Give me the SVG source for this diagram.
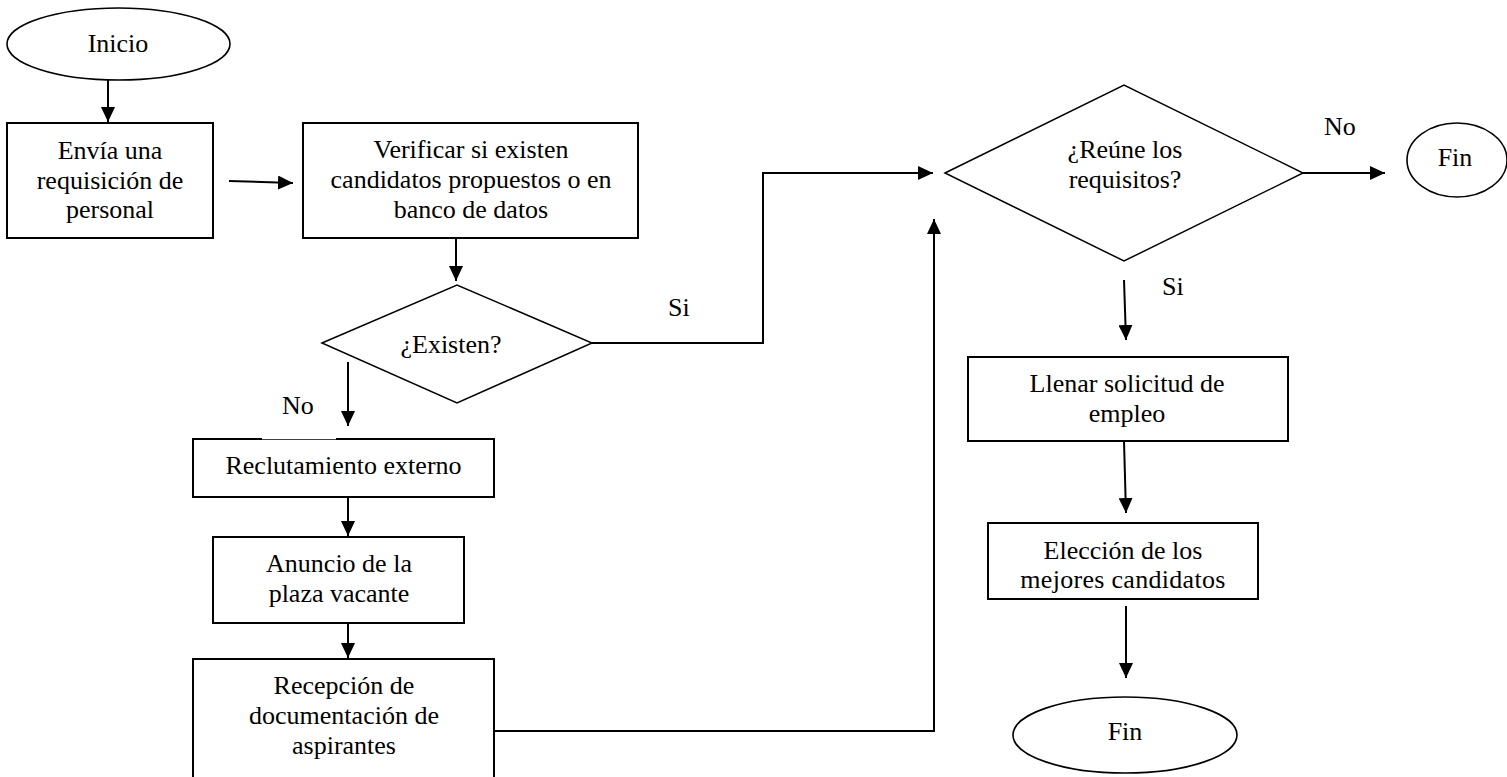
<svg xmlns="http://www.w3.org/2000/svg" width="1507" height="777" viewBox="0 0 1507 777">
  <style>
    .box { fill: #ffffff; stroke: #000000; stroke-width: 2; }
    .dec { fill: #ffffff; stroke: #000000; stroke-width: 1.5; }
    .term { fill: #ffffff; stroke: #000000; stroke-width: 1.6; }
    .lbl { font-family: "Liberation Serif", "Times New Roman", serif; font-size: 26px; fill: #000000; }
    .mid { text-anchor: middle; }
    .edge { fill: none; stroke: #000000; stroke-width: 2; marker-end: url(#arrow); }
    .plain { fill: none; stroke: #000000; stroke-width: 2; }
  </style>
  <defs>
    <marker id="arrow" markerUnits="userSpaceOnUse" markerWidth="15" markerHeight="14" refX="15" refY="7" orient="auto">
      <path d="M0,0 L15,7 L0,14 Z" fill="#000000"/>
    </marker>
    <clipPath id="clip-eleccion">
      <rect x="989" y="524" width="268" height="72"/>
    </clipPath>
  </defs>
  <rect width="1507" height="777" fill="#ffffff"/>

  <!-- connectors -->
  <g id="connectors">
    <line class="edge" x1="108" y1="80" x2="108" y2="122"/>
    <line class="edge" x1="229" y1="181" x2="293" y2="183"/>
    <line class="edge" x1="456" y1="238" x2="456" y2="281"/>
    <polyline class="edge" points="592,343 763,343 763,173 933,173"/>
    <line class="edge" x1="348" y1="362" x2="348" y2="426"/>
    <line class="edge" x1="348" y1="497" x2="348" y2="536"/>
    <line class="edge" x1="348" y1="623" x2="348" y2="658"/>
    <polyline class="edge" points="494,731 934,731 934,219"/>
    <line class="edge" x1="1303" y1="173" x2="1385" y2="173"/>
    <line class="edge" x1="1124" y1="280" x2="1126" y2="340"/>
    <line class="edge" x1="1124" y1="441" x2="1126" y2="513"/>
    <line class="edge" x1="1126" y1="606" x2="1126" y2="678"/>
    <text class="lbl" x="668" y="316">Si</text>
    <text class="lbl" x="282" y="414">No</text>
    <text class="lbl" x="1324" y="135">No</text>
    <text class="lbl" x="1162" y="295">Si</text>
  </g>

  <!-- start -->
  <g id="inicio">
    <ellipse class="term" cx="118.5" cy="44" rx="111.5" ry="36"/>
    <text class="lbl mid" x="118" y="52">Inicio</text>
  </g>

  <g id="envia">
    <rect class="box" x="7" y="123" width="206" height="115"/>
    <text class="lbl mid" x="110" y="159">Envía una</text>
    <text class="lbl mid" x="110" y="189">requisición de</text>
    <text class="lbl mid" x="110" y="218">personal</text>
  </g>

  <g id="verificar">
    <rect class="box" x="303" y="123" width="335" height="115"/>
    <text class="lbl mid" x="471" y="158">Verificar si existen</text>
    <text class="lbl mid" x="471" y="188">candidatos propuestos o en</text>
    <text class="lbl mid" x="471" y="218">banco de datos</text>
  </g>

  <g id="existen">
    <polygon class="dec" points="322,343 457,285 592,343 457,403"/>
    <text class="lbl mid" x="451" y="353">¿Existen?</text>
  </g>

  <g id="reclutamiento">
    <rect class="box" x="193" y="439" width="301" height="58"/>
    <!-- lighter run on the top edge -->
    <line x1="262" y1="438.6" x2="336" y2="438.6" stroke="#ffffff" stroke-width="1.2"/>
    <text class="lbl mid" x="343.5" y="474">Reclutamiento externo</text>
  </g>

  <g id="anuncio">
    <rect class="box" x="213" y="537" width="251" height="86"/>
    <text class="lbl mid" x="339" y="572">Anuncio de la</text>
    <text class="lbl mid" x="339" y="602">plaza vacante</text>
  </g>

  <g id="recepcion">
    <rect class="box" x="193" y="659" width="301" height="125"/>
    <text class="lbl mid" x="344" y="694">Recepción de</text>
    <text class="lbl mid" x="344" y="724">documentación de</text>
    <text class="lbl mid" x="344" y="754">aspirantes</text>
  </g>

  <g id="reune">
    <polygon class="dec" points="945,173 1124,85 1303,173 1124,261"/>
    <text class="lbl mid" x="1125" y="158">¿Reúne los</text>
    <text class="lbl mid" x="1125" y="188">requisitos?</text>
  </g>

  <g id="fin-no">
    <ellipse class="term" cx="1457" cy="160" rx="50" ry="37"/>
    <text class="lbl mid" x="1455" y="166">Fin</text>
  </g>

  <g id="llenar">
    <rect class="box" x="968" y="357" width="320" height="84"/>
    <text class="lbl mid" x="1127" y="392">Llenar solicitud de</text>
    <text class="lbl mid" x="1127" y="422">empleo</text>
  </g>

  <g id="eleccion">
    <rect class="box" x="988" y="523" width="270" height="76"/>
    <g clip-path="url(#clip-eleccion)">
      <text class="lbl mid" x="1123" y="559">Elección de los</text>
      <text class="lbl mid" x="1123" y="588" letter-spacing="0.3">mejores candidatos</text>
    </g>
  </g>

  <g id="fin">
    <ellipse class="term" cx="1125" cy="735" rx="112" ry="38"/>
    <text class="lbl mid" x="1125" y="740">Fin</text>
  </g>
</svg>
